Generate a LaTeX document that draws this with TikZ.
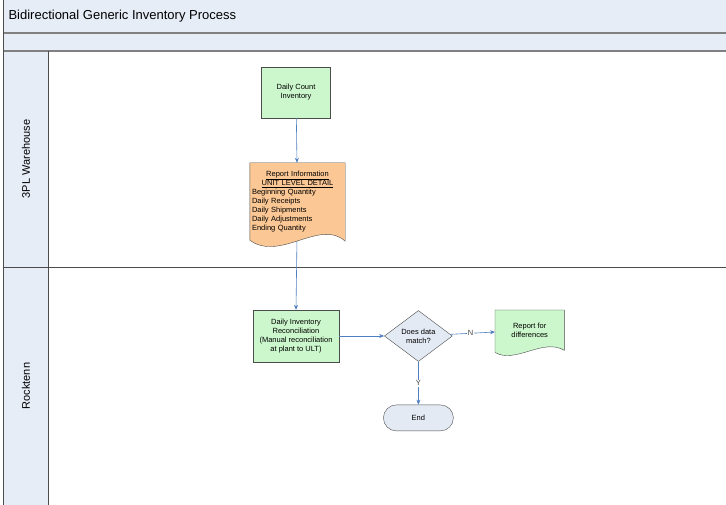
\documentclass[tikz,border=0pt]{standalone}
\usepackage{fontspec}
\setmainfont{Liberation Sans}
\usetikzlibrary{arrows.meta,positioning,calc,shapes.geometric,backgrounds}
\definecolor{LaneBlue}{HTML}{E6EDF7}
\definecolor{StepGreen}{HTML}{CCF7CC}
\definecolor{DocOrange}{HTML}{FBC794}
\definecolor{EndGrey}{HTML}{E4EAF4}
\definecolor{FlowBlue}{HTML}{4F7FBF}
\colorlet{Edge}{black!70}
\colorlet{Rule}{black!50}

\begin{document}
\begin{tikzpicture}[
    x=1pt,y=-1pt,
    >={Stealth[length=5pt,width=4pt]},
    node distance=45pt,
    every node/.style={font=\fontsize{7.5}{9}\selectfont},
    process/.style={draw=Edge,fill=StepGreen,minimum width=69pt,minimum height=51pt,align=center,inner sep=1pt},
    decision/.style={diamond,draw=Edge,fill=EndGrey,minimum width=68pt,minimum height=51pt,aspect=1.33,align=center,inner sep=0pt},
    terminal/.style={draw=Edge,fill=EndGrey,rounded corners=13pt,minimum width=70pt,minimum height=26pt},
    docbox/.style={minimum width=69pt,minimum height=40pt,align=center,inner sep=2pt},
    docshape/.style={draw=Edge},
    flow/.style={->,FlowBlue,semithick},
    answer/.style={fill=white,inner sep=1pt,text=black!75},
    band/.style={fill=LaneBlue},
    lanename/.style={rotate=90,font=\fontsize{11}{13}\selectfont}
  ]
    \useasboundingbox (0,0) rectangle (726,505);

    \node[anchor=west] (title) at (5,16) {\fontsize{13}{15}\selectfont Bidirectional Generic Inventory Process};

    \node[process] (count) at (296,92.5) {Daily Count\\Inventory};
    \node[docbox,minimum width=95pt,minimum height=77pt,text width=91pt,align=left,inner sep=2pt] (report) at (297.5,201.5)
      {\makebox[91pt][c]{\underline{Report Information}}\\[0.5pt]\makebox[91pt][c]{\underline{UNIT LEVEL DETAIL}}\\
       Beginning Quantity\\Daily Receipts\\Daily Shipments\\Daily Adjustments\\Ending Quantity};
    \node[process,minimum width=86pt,minimum height=52pt] (recon) at (296,336)
      {Daily Inventory\\Reconciliation\\(Manual reconciliation\\at plant to ULT)};
    \node[decision,right=45pt of recon] (match) {Does data\\match?};
    \node[docbox,anchor=north west] (diff) at (495,310) {Report for\\differences};
    \node[terminal,below=43pt of match] (stop) {End};

    \begin{scope}[on background layer]
      % swimlanes
      \fill[band] (3,0) rectangle (726,51);
      \fill[band] (3,51) rectangle (48,505);
      \draw[Rule,line width=1.5pt] (3,33) -- (726,33);
      \draw[Rule,line width=1.5pt] (3,51) -- (726,51);
      \draw[Edge] (3,0) -- (3,505);
      \draw[Edge] (48,51) -- (48,505);
      \draw[Edge] (3,267) -- (726,267);
      \node[lanename] (warehouse) at (26,159) {3PL Warehouse};
      \node[lanename] (rocktenn) at (26,386) {Rocktenn};

      \draw[flow] (report.center) -- (recon.north);

      % document shapes
      \draw[docshape,fill=DocOrange] (report.north west) -- (report.north east) -- ($(report.south east)+(0,1)$)
        .. controls ($(report.south east)+(-25,-22)$) and ($(report.south west)+(30,22)$) .. (report.south west) -- cycle;
      \draw[docshape,fill=StepGreen] (diff.north west) -- (diff.north east) -- (diff.south east)
        .. controls ($(diff.south east)+(-21,-13)$) and ($(diff.south west)+(20,14)$) .. ($(diff.south west)+(0,2)$) -- cycle;
    \end{scope}

    \draw[flow] (count) -- (report);
    \draw[flow] (recon) -- (match);
    \draw[flow] (match) -- node[answer,pos=0.45] {N} (diff);
    \draw[flow] (match) -- node[answer] {Y} (stop);
  \end{tikzpicture}
\end{document}
